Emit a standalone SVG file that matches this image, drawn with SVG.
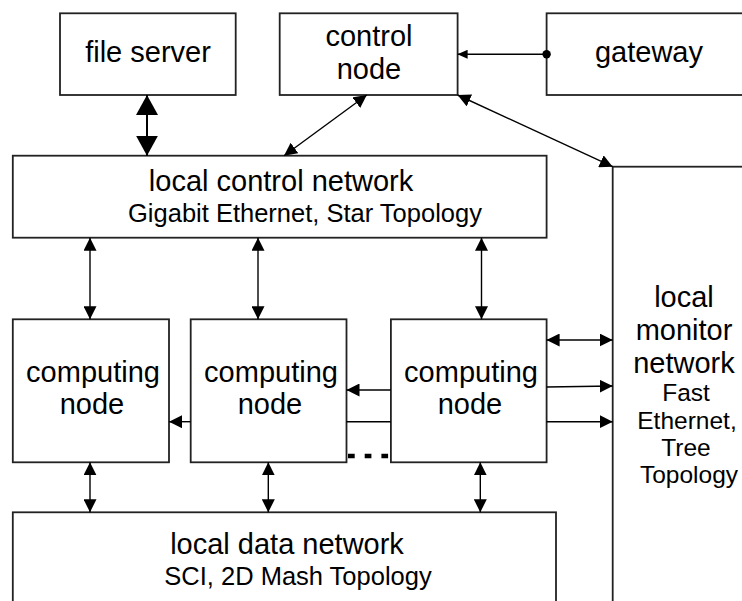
<svg xmlns="http://www.w3.org/2000/svg" width="742" height="601" viewBox="0 0 742 601">
<defs>
<style>
.box{fill:#fff;stroke:#222;stroke-width:1.8}
.t{font-family:"Liberation Sans",Arial,sans-serif;font-size:29px;fill:#000;text-anchor:middle}
.s{font-family:"Liberation Sans",Arial,sans-serif;font-size:25.5px;fill:#000;text-anchor:middle}
.m{font-family:"Liberation Sans",Arial,sans-serif;font-size:24.5px;fill:#000;text-anchor:middle}
.c{stroke:#000;stroke-width:1.4;fill:none}
</style>
<marker id="arr" markerUnits="userSpaceOnUse" markerWidth="13" markerHeight="13" refX="13" refY="6.5" orient="auto-start-reverse" viewBox="0 0 13 13"><path d="M0,0 L13,6.5 L0,13 z" fill="#000"/></marker>
<marker id="big" markerUnits="userSpaceOnUse" markerWidth="20" markerHeight="22" refX="20" refY="11" orient="auto-start-reverse" viewBox="0 0 20 22"><path d="M0,0 L20,11 L0,22 z" fill="#000"/></marker>
<marker id="sm" markerUnits="userSpaceOnUse" markerWidth="10" markerHeight="9" refX="10" refY="4.5" orient="auto" viewBox="0 0 10 9"><path d="M0,0 L10,4.5 L0,9 z" fill="#000"/></marker>
<marker id="dot" markerUnits="userSpaceOnUse" markerWidth="9" markerHeight="9" refX="4.5" refY="4.5" viewBox="0 0 9 9"><circle cx="4.5" cy="4.5" r="4.2" fill="#000"/></marker>
</defs>
<rect width="742" height="601" fill="#fff"/>

<g id="file-server"><rect class="box" x="60" y="13.3" width="175.7" height="81.7"/><text class="t" x="148" y="62">file server</text></g>
<g id="control-node"><rect class="box" x="279.7" y="13.3" width="177.9" height="81.7"/><text class="t" x="369" y="46">control</text><text class="t" x="369" y="78.5">node</text></g>
<g id="gateway"><rect class="box" x="546.6" y="13.3" width="210" height="81.7"/><text class="t" x="649" y="62">gateway</text></g>
<g id="local-control-network"><rect class="box" x="12.8" y="155.7" width="533.8" height="82"/><text class="t" x="281" y="191">local control network</text><text class="s" x="305" y="222">Gigabit Ethernet, Star Topology</text></g>
<g id="local-monitor-network"><rect class="box" x="612.7" y="166.7" width="200" height="500"/>
<text class="t" x="684" y="307">local</text><text class="t" x="684" y="340">monitor</text><text class="t" x="684" y="373">network</text>
<text class="m" x="686" y="401">Fast</text><text class="m" x="687" y="429">Ethernet,</text><text class="m" x="686" y="456">Tree</text><text class="m" x="689" y="483">Topology</text></g>
<g id="computing-node-1"><rect class="box" x="12.8" y="319.3" width="156.2" height="143"/><text class="t" x="93" y="382">computing</text><text class="t" x="92" y="414">node</text></g>
<g id="computing-node-2"><rect class="box" x="190.7" y="319.3" width="155.8" height="143"/><text class="t" x="271" y="382">computing</text><text class="t" x="270" y="414">node</text></g>
<g id="computing-node-3"><rect class="box" x="390.9" y="319.3" width="155.7" height="143"/><text class="t" x="471" y="382">computing</text><text class="t" x="470" y="414">node</text></g>
<g id="local-data-network"><rect class="box" x="12.8" y="512.3" width="543.2" height="200"/><text class="t" x="287" y="554">local data network</text><text class="s" x="298" y="585">SCI, 2D Mash Topology</text></g>

<g id="connectors">
<line x1="147" y1="95" x2="147" y2="155.7" stroke="#000" stroke-width="2" marker-start="url(#big)" marker-end="url(#big)"/>
<line class="c" x1="546.6" y1="54.3" x2="457.6" y2="54.3" marker-start="url(#dot)" marker-end="url(#sm)"/>
<line class="c" x1="366.8" y1="95" x2="284" y2="155.7" marker-start="url(#arr)" marker-end="url(#arr)"/>
<line class="c" x1="457.6" y1="95" x2="612.7" y2="166.7" marker-start="url(#arr)" marker-end="url(#arr)"/>
<line class="c" x1="90" y1="237.7" x2="90" y2="319.3" marker-start="url(#arr)" marker-end="url(#arr)"/>
<line class="c" x1="258" y1="237.7" x2="258" y2="319.3" marker-start="url(#arr)" marker-end="url(#arr)"/>
<line class="c" x1="481.5" y1="237.7" x2="481.5" y2="319.3" marker-start="url(#arr)" marker-end="url(#arr)"/>
<line class="c" x1="90" y1="462.3" x2="90" y2="512.3" marker-start="url(#arr)" marker-end="url(#arr)"/>
<line class="c" x1="268.3" y1="462.3" x2="268.3" y2="512.3" marker-start="url(#arr)" marker-end="url(#arr)"/>
<line class="c" x1="480.3" y1="462.3" x2="480.3" y2="512.3" marker-start="url(#arr)" marker-end="url(#arr)"/>
<line class="c" x1="546.6" y1="340" x2="612.7" y2="340" marker-start="url(#arr)" marker-end="url(#arr)"/>
<line class="c" x1="546.6" y1="387" x2="612.7" y2="386" marker-end="url(#arr)"/>
<line class="c" x1="546.6" y1="421.7" x2="612.7" y2="421.7" marker-end="url(#arr)"/>
<line class="c" x1="390.9" y1="390" x2="346.5" y2="390" marker-end="url(#arr)"/>
<line class="c" x1="346.5" y1="421.7" x2="390.9" y2="421.7"/>
<line class="c" x1="190.7" y1="421.7" x2="169" y2="421.7" marker-end="url(#arr)"/>
<line x1="348" y1="456" x2="390" y2="456" stroke="#000" stroke-width="4.5" stroke-dasharray="6.7 10"/>
</g>
</svg>
